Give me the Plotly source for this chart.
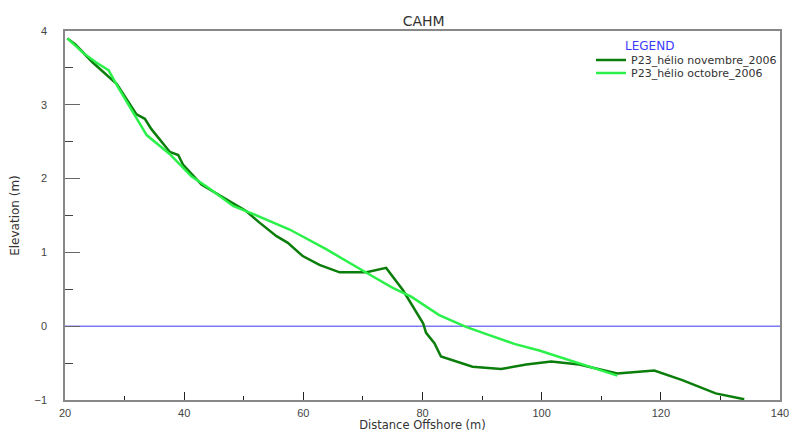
import plotly.graph_objects as go

# Dark green profile: P23_hélio novembre_2006
nov_x = [20.4, 21.7, 24.7, 28.7, 32.0, 33.4, 34.5, 37.6, 39.0, 39.8, 42.9, 47.1, 50.4,
         52.7, 55.5, 57.4, 59.9, 62.7, 66.1, 70.6, 73.9, 76.7, 80.1, 80.6, 82.0, 83.1,
         88.4, 93.2, 97.4, 101.6, 106.3, 112.7, 115.2, 118.9, 123.6, 129.2, 134.0]
nov_y = [3.90, 3.82, 3.57, 3.28, 2.87, 2.81, 2.67, 2.36, 2.32, 2.19, 1.92, 1.72, 1.56,
         1.40, 1.22, 1.13, 0.95, 0.83, 0.73, 0.73, 0.79, 0.49, 0.04, -0.09, -0.23, -0.41,
         -0.55, -0.58, -0.52, -0.48, -0.52, -0.64, -0.62, -0.60, -0.73, -0.91, -0.99]

# Light green profile: P23_hélio octobre_2006
oct_x = [20.4, 23.1, 25.3, 27.3, 28.9, 33.7, 37.6, 41.2, 44.0, 48.2, 51.0, 55.7,
         57.7, 63.9, 67.2, 71.1, 75.0, 78.1, 82.8, 87.3, 91.2, 95.4, 99.6, 103.5, 107.4, 112.7]
oct_y = [3.90, 3.70, 3.57, 3.47, 3.24, 2.59, 2.33, 2.03, 1.88, 1.63, 1.54, 1.38,
         1.31, 1.04, 0.88, 0.70, 0.52, 0.40, 0.15, -0.01, -0.12, -0.24, -0.33, -0.43, -0.54, -0.67]

series_names = ["P23_hélio novembre_2006", "P23_hélio octobre_2006"]
series_colors = ["#0a7d0a", "#2cf04a"]

x_ticks = [20, 40, 60, 80, 100, 120, 140]
y_ticks = [-1, 0, 1, 2, 3, 4]
water_level = 0

FONT = "Liberation Sans, Arial, sans-serif"
WFONT = "DejaVu Sans, Verdana, sans-serif"
H = 432
PLOT_TOP, PLOT_BOTTOM, PLOT_LEFT, PLOT_RIGHT = 31, 400, 65, 781


def py(pix):
    return (PLOT_BOTTOM - pix) / (PLOT_BOTTOM - PLOT_TOP)


def px(pix):
    return (pix - PLOT_LEFT) / (PLOT_RIGHT - PLOT_LEFT)


fig = go.Figure()
fig.add_trace(go.Scatter(x=nov_x, y=nov_y, mode="lines", name=series_names[0],
                         line=dict(color=series_colors[0], width=2.5), legend="legend"))
fig.add_trace(go.Scatter(x=oct_x, y=oct_y, mode="lines", name=series_names[1],
                         line=dict(color=series_colors[1], width=2.5), legend="legend2"))

fig.add_shape(type="line", xref="paper", yref="y", x0=0, x1=1, y0=water_level, y1=water_level,
              line=dict(color="#7a7af2", width=1.5), layer="below")

legend_common = dict(xanchor="left", yanchor="middle", bgcolor="rgba(0,0,0,0)",
                     font=dict(family=WFONT, size=11, color="#333333"), itemwidth=30)

fig.update_layout(
    width=792, height=H,
    margin=dict(l=PLOT_LEFT, r=792 - PLOT_RIGHT, t=PLOT_TOP, b=H - PLOT_BOTTOM),
    paper_bgcolor="white", plot_bgcolor="white",
    font=dict(family=FONT, size=11, color="#444444"),
    title=dict(text="CAHM", x=0.535, xanchor="center", y=1 - 21.5 / H, yanchor="middle",
               font=dict(family=WFONT, size=14, color="#333333")),
    showlegend=True,
    legend=dict(x=px(591), y=py(60), **legend_common),
    legend2=dict(x=px(591), y=py(73), **legend_common),
    annotations=[dict(text="LEGEND", xref="paper", yref="paper", x=px(624),
                      y=py(46), xanchor="left", yanchor="middle", showarrow=False,
                      font=dict(family=WFONT, size=12, color="#3b3bff"))],
)

fig.update_xaxes(range=[20, 140], tickvals=x_ticks, ticks="inside", ticklen=8, tickwidth=1,
                 tickcolor="#222222", showline=True, linecolor="#888888", linewidth=1.5,
                 mirror=True, showgrid=False, zeroline=False,
                 minor=dict(dtick=10, ticks="inside", ticklen=4, tickcolor="#222222", showgrid=False),
                 tickfont=dict(size=11, color="#444444"), ticklabelstandoff=2,
                 title=dict(text="Distance Offshore (m)", standoff=6,
                            font=dict(family=WFONT, size=11.5, color="#333333")),
                 automargin=False)
fig.update_yaxes(range=[-1, 4], tickvals=y_ticks, ticks="inside", ticklen=15, tickwidth=1,
                 tickcolor="#666666", showline=True, linecolor="#888888", linewidth=1.5,
                 mirror=True, showgrid=False, zeroline=False,
                 minor=dict(dtick=0.5, ticks="inside", ticklen=8, tickcolor="#444444", showgrid=False),
                 tickfont=dict(size=11, color="#444444"), ticklabelstandoff=14,
                 title=dict(text="Elevation (m)", standoff=12,
                            font=dict(family=WFONT, size=12, color="#333333")),
                 automargin=False)

fig.write_html("out.html", config={"displayModeBar": False},
               post_script="document.body.style.margin='0';")
